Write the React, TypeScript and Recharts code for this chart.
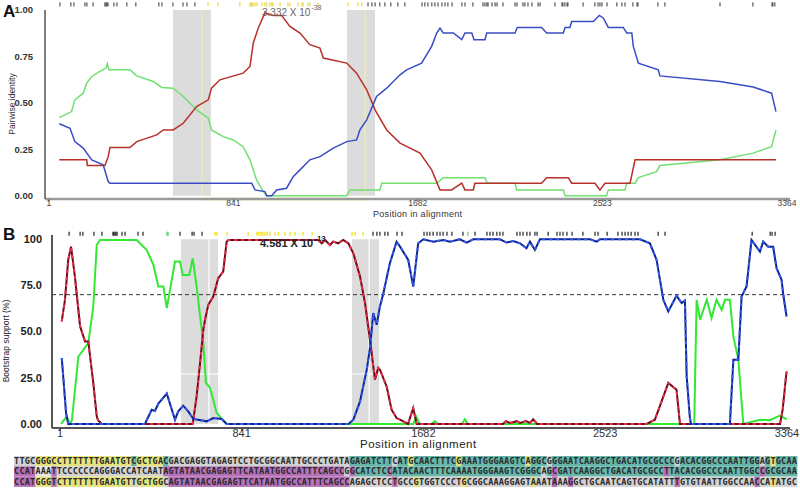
import { LineChart, Line, XAxis, YAxis, ReferenceArea, ReferenceLine } from 'recharts'

const positionTicks = [1, 841, 1682, 2523, 3364]
const identityTicks = [0, 0.25, 0.5, 0.75, 1]
const bootstrapTicks = [0, 25, 50, 75, 100]

// Panel A - pairwise identity, [position, identity]
const identityGreen = [
  [48, 0.42], [104, 0.453], [119, 0.516], [157, 0.552], [173, 0.606], [196, 0.642], [233, 0.669],
  [261, 0.687], [267, 0.71], [274, 0.678], [370, 0.678], [401, 0.645], [476, 0.615], [515, 0.583],
  [567, 0.579], [613, 0.534], [674, 0.462], [727, 0.417], [742, 0.354], [795, 0.318], [841, 0.3],
  [886, 0.264], [917, 0.193], [947, 0.085], [978, 0.022], [993, 0], [1358, 0], [1373, 0.031],
  [1509, 0.031], [1517, 0.067], [1768, 0.067], [1798, 0.097], [1988, 0.097], [1999, 0.067],
  [2125, 0.067], [2133, 0.031], [2345, 0.031], [2353, 0], [2542, 0], [2550, 0.031], [2626, 0.031],
  [2634, 0.067], [2672, 0.067], [2687, 0.097], [2770, 0.129], [2785, 0.162], [3059, 0.193],
  [3210, 0.229], [3294, 0.264], [3314, 0.354],
]
const identityRed = [
  [48, 0.193], [173, 0.193], [176, 0.162], [256, 0.162], [271, 0.21], [279, 0.259], [370, 0.259],
  [401, 0.291], [492, 0.327], [522, 0.354], [567, 0.354], [613, 0.39], [674, 0.48], [727, 0.516],
  [742, 0.579], [780, 0.624], [886, 0.66], [917, 0.696], [932, 0.822], [955, 0.903], [985, 0.984],
  [1023, 0.971], [1061, 0.971], [1099, 0.912], [1145, 0.876], [1190, 0.813], [1236, 0.795],
  [1251, 0.741], [1358, 0.714], [1403, 0.66], [1449, 0.57], [1487, 0.462], [1540, 0.354],
  [1601, 0.283], [1692, 0.229], [1745, 0.139], [1783, 0.031], [1836, 0.031], [1882, 0.067],
  [1897, 0.031], [1935, 0.031], [1942, 0.067], [2246, 0.067], [2269, 0.097], [2368, 0.097],
  [2383, 0.067], [2489, 0.067], [2512, 0.031], [2535, 0.067], [2649, 0.067], [2672, 0.193],
  [3314, 0.193],
]
const identityBlue = [
  [48, 0.387], [97, 0.363], [119, 0.291], [157, 0.256], [196, 0.193], [248, 0.166], [271, 0.076],
  [279, 0.067], [925, 0.067], [940, 0.031], [985, 0.022], [993, 0], [1016, 0], [1039, 0.031],
  [1084, 0.04], [1114, 0.102], [1145, 0.139], [1190, 0.193], [1236, 0.21], [1297, 0.256],
  [1358, 0.291], [1403, 0.3], [1418, 0.354], [1449, 0.408], [1494, 0.534], [1540, 0.579],
  [1601, 0.651], [1631, 0.678], [1699, 0.714], [1745, 0.804], [1768, 0.876], [1783, 0.903],
  [1798, 0.876], [1844, 0.876], [1882, 0.84], [1897, 0.876], [1928, 0.876], [1938, 0.84],
  [1988, 0.84], [1996, 0.876], [2125, 0.876], [2135, 0.906], [2246, 0.906], [2269, 0.876],
  [2345, 0.876], [2353, 0.906], [2375, 0.906], [2383, 0.938], [2482, 0.938], [2509, 0.971],
  [2527, 0.957], [2550, 0.906], [2618, 0.906], [2634, 0.876], [2657, 0.876], [2664, 0.804],
  [2687, 0.714], [2778, 0.678], [2785, 0.645], [3059, 0.615], [3210, 0.585], [3294, 0.552],
  [3314, 0.453],
]

// Panel B - bootstrap support (%), [position, support]
const bootstrapGreen = [
  [6, 0], [32, 4], [47, 0], [56, 2], [86, 36.5], [132, 43.8], [155, 63.6], [171, 96.9], [186, 99.6],
  [356, 99.6], [402, 94.2], [433, 86.1], [456, 74.4], [479, 74.4], [495, 62.7], [533, 87.9],
  [556, 87.9], [569, 80.7], [599, 80.7], [615, 89.7], [633, 74.4], [664, 43.8], [676, 22.2],
  [695, 19.5], [726, 5.9], [756, 2], [772, 0], [1635, 0], [1650, 3.8], [1665, 0], [1720, 0],
  [1735, 1.5], [1750, 0], [1860, 0], [1874, 2.5], [1888, 0], [2935, 0], [2946, 67.2], [2962, 56.4],
  [2993, 67.2], [3015, 57.3], [3038, 67.2], [3062, 61.8], [3077, 67.2], [3100, 67.2], [3116, 47.4],
  [3139, 34.8], [3162, 0], [3239, 2.3], [3285, 2], [3331, 4.5], [3363, 2.5],
]
const bootstrapRed = [
  [9, 55.5], [24, 67.2], [39, 88.8], [52, 96], [70, 79.8], [94, 52.8], [117, 44.6], [132, 44.6],
  [155, 22.2], [171, 4.1], [177, 2], [194, 0], [615, 0], [633, 14.9], [649, 33], [664, 51],
  [672, 56.4], [687, 64.5], [710, 69], [733, 78.9], [756, 82.5], [772, 98.7], [780, 99.6],
  [1196, 99.6], [1212, 97.8], [1227, 99.6], [1250, 96.9], [1265, 98.7], [1288, 97.8], [1311, 99.6],
  [1335, 97.8], [1358, 92.4], [1389, 79.8], [1412, 65.4], [1435, 45.6], [1458, 24], [1473, 30.3],
  [1481, 29.4], [1512, 20.3], [1535, 7.7], [1558, 3.2], [1574, 2.3], [1611, 0], [1635, 8.6],
  [1651, 0], [2050, 0], [2064, 1.5], [2083, 0.5], [2115, 1.5], [2129, 0.5], [2157, 1.5],
  [2175, 0.5], [2190, 2.5], [2208, 0], [2715, 0], [2753, 2.3], [2815, 22.2], [2853, 18.5],
  [2869, 0], [3332, 0], [3344, 7.7], [3362, 28.4],
]
const bootstrapBlue = [
  [9, 35.7], [16, 25.7], [29, 5.9], [39, 0], [394, 0], [425, 7.7], [440, 7], [456, 11], [495, 16.4],
  [533, 2.3], [548, 6.8], [571, 9.9], [594, 6.8], [618, 2.7], [680, 1.4], [710, 3.2], [749, 2.7],
  [772, 0], [1335, 0], [1358, 2.3], [1389, 12.2], [1420, 29.4], [1435, 41], [1450, 60],
  [1466, 53.7], [1481, 63.6], [1497, 70.8], [1527, 87], [1558, 98.7], [1574, 96], [1612, 88.8],
  [1635, 74.4], [1658, 97.8], [1682, 100], [1728, 98.7], [1774, 99.6], [1805, 98.7], [1851, 100],
  [1882, 98.2], [1913, 100], [2036, 100], [2067, 98.2], [2098, 99], [2129, 97.8], [2159, 95.1],
  [2175, 98.7], [2198, 94.2], [2221, 100], [2453, 100], [2484, 98.7], [2499, 100], [2684, 100],
  [2730, 97.8], [2761, 88.8], [2792, 67.2], [2815, 60.9], [2853, 69.4], [2877, 65.4], [2892, 66.8],
  [2900, 25.7], [2915, 3.2], [2920, 0], [3100, 0], [3116, 34.8], [3139, 34.8], [3154, 69],
  [3177, 74.4], [3200, 99.6], [3239, 93.3], [3254, 98.7], [3277, 96], [3300, 96], [3316, 84.3],
  [3339, 78], [3346, 70.8], [3362, 58.2],
]

// informative sites along the top
const sitesABlack = [
  51, 101, 115, 165, 174, 202, 256, 261, 265, 270, 297, 311, 356, 397, 502, 516, 566, 612, 630, 666,
  1455, 1473, 1487, 1509, 1532, 1559, 1591, 1623, 1701, 1714, 1728, 1746, 1760, 1774, 1792, 1806,
  1819, 1838, 1883, 1897, 1933, 1979, 1988, 1997, 2002, 2020, 2034, 2043, 2070, 2125, 2134, 2161,
  2170, 2184, 2202, 2230, 2239, 2307, 2339, 2343, 2352, 2362, 2366, 2435, 2489, 2503, 2512, 2521,
  2544, 2589, 2612, 2626, 2662, 2681, 2685, 2776, 2808, 3059, 3209, 3296, 3300, 3309,
]
const sitesAYellow = [
  726, 771, 871, 917, 922, 926, 931, 940, 949, 972, 985, 994, 1008, 1017, 1022, 1054, 1090, 1099,
  1136, 1154, 1159, 1181, 1190, 1227, 1364, 1409, 1427,
]
const sitesBBlack = [
  43, 94, 107, 158, 195, 246, 250, 255, 260, 265, 288, 302, 362, 385, 556, 612, 621, 658, 1449, 1467,
  1481, 1504, 1518, 1560, 1583, 1685, 1699, 1712, 1727, 1745, 1759, 1773, 1791, 1814, 1865, 1921,
  1976, 1990, 2004, 2022, 2036, 2050, 2115, 2129, 2143, 2161, 2175, 2198, 2208, 2259, 2300, 2314,
  2328, 2346, 2370, 2420, 2476, 2490, 2532, 2582, 2601, 2615, 2629, 2643, 2661, 2675, 2768, 2800,
  3203, 3286, 3295, 3309,
]
const sitesBGreen = [496, 501, 1888]
const sitesBYellow = [
  718, 727, 774, 871, 912, 921, 931, 940, 949, 959, 972, 996, 1010, 1042, 1065, 1088, 1125, 1167,
  1352, 1366, 1403,
]

const identityBreaks = [[566, 739], [1359, 1487]]
const identityBreakLines = [698, 1441]
const bootstrapBreaks = [[561, 732], [1352, 1477]]
const bootstrapBreakLines = [690, 1431]

const seqRows = [
  'TTGCGGGCCTTTTTTTGAATGTCGCTGACGACGAGGTAGAGTCCTGCGGCAATTGCCCTGATAGAGATCTTCATGCAACTTTCGAAATGGGAAGTCAGGCGGGAATCAAGGCTGACATGCGCCCGACACGGCCCAATTGGAGTGCAA',
  'CCATAAATTCCCCCCAGGGACCATCAATAGTATAACGAGAGTTCATAATGGCCATTTCAGCCGGCATCTCCATACAACTTTCAAAATGGGAAGTCGGGCAGCGATCAAGGCTGACATGCGCCTTACACGGCCCAATTGGCCGCGCAA',
  'CCATGGGTCTTTTTTTGAATGTTGCTGGCAGTATAACGAGAGTTCATAATGGCCATTTCAGCCAGAGCTCCTGCCGTGGTCCCTGCGGCAAAGGAGTAAATAAAGGCTGCAATCAGTGCATATTTGTGTAATTGGCCAACCATATGC',
]
// run-length shading class per row
const seqShading: [string, number][][] = [
  [['g', 4], ['y', 18], ['t', 1], ['y', 5], ['t', 1], ['g', 34], ['t', 8], ['g', 1], ['t', 2], ['y', 1],
   ['t', 8], ['y', 1], ['t', 12], ['y', 1], ['t', 3], ['g', 1], ['t', 23], ['g', 1], ['t', 15], ['g', 1],
   ['t', 1], ['y', 1], ['t', 4]],
  [['p', 4], ['w', 3], ['p', 1], ['g', 20], ['p', 34], ['g', 1], ['p', 1], ['t', 6], ['p', 1], ['t', 28],
   ['g', 1], ['t', 1], ['p', 1], ['t', 20], ['p', 1], ['t', 17], ['p', 1], ['t', 6]],
  [['p', 4], ['y', 3], ['p', 1], ['y', 14], ['g', 1], ['y', 5], ['g', 1], ['p', 34], ['g', 8], ['p', 1],
   ['g', 3], ['y', 1], ['g', 8], ['y', 1], ['g', 12], ['y', 1], ['g', 3], ['p', 1], ['g', 2], ['p', 1],
   ['g', 19], ['p', 1], ['g', 14], ['p', 1], ['g', 2], ['y', 1], ['g', 4]],
]
const shadeFill: Record<string, string> = {
  g: '#d2d2d2',
  w: '#e6e6e6',
  y: '#e4e27c',
  t: '#64b6aa',
  p: '#b46fb6',
}

const FONT = '"Liberation Sans", Arial, sans-serif'

const toRows = (pts: number[][]) => pts.map(([pos, v]) => ({ pos, v }))

function SequenceBlock() {
  const rowH = 10.3
  return (
    <svg width={784} height={32} style={{ position: 'absolute', left: 14, top: 456 }}>
      {seqRows.map((row, r) => {
        const classes = seqShading[r].flatMap(([c, n]) => Array(n).fill(c))
        const w = 783 / row.length
        return row.split('').map((ch, i) => (
          <g key={`${r}-${i}`}>
            <rect x={i * w} y={r * rowH} width={w + 0.4} height={rowH} fill={shadeFill[classes[i] || 'g']} />
            <text
              x={i * w + w / 2}
              y={r * rowH + 8}
              textAnchor="middle"
              fontSize={8.6}
              fontWeight="bold"
              fontFamily='"DejaVu Sans Mono", monospace'
              fill="#2a2a2a"
            >
              {ch}
            </text>
          </g>
        ))
      })}
    </svg>
  )
}

export default function App() {
  return (
    <div style={{ position: 'absolute', left: 0, top: 0, width: 800, height: 493, background: '#fff', fontFamily: FONT, overflow: 'hidden' }}>
      {/* Panel A */}
      <div style={{ position: 'absolute', left: 0, top: 0 }}>
        <LineChart width={800} height={220} margin={{ top: 10, right: 10, bottom: 6, left: 5 }}>
          <XAxis
            type="number"
            dataKey="pos"
            domain={[-17, 3378]}
            ticks={positionTicks}
            height={15}
            tickSize={3}
            axisLine={{ stroke: '#9a9a9a', strokeWidth: 2.5 }}
            tickLine={{ stroke: '#777' }}
            tick={{ fill: '#444', fontSize: 8.5, fontFamily: FONT, dy: -2 }}
            tickMargin={0}
          />
          <YAxis
            type="number"
            domain={[-0.018, 1]}
            ticks={identityTicks}
            width={40}
            tickLine={false}
            axisLine={{ stroke: '#555', strokeWidth: 1.5 }}
            tick={{ fill: '#333', fontSize: 9.5, fontWeight: 'bold', fontFamily: FONT }}
            tickFormatter={(v: number) => v.toFixed(2)}
            tickMargin={6}
          />
          {identityBreaks.map(([a, b]) => (
            <ReferenceArea key={a} x1={a} x2={b} y1={0} y2={1} fill="#dcdcdc" fillOpacity={1} stroke="none" />
          ))}
          {identityBreakLines.map((p) => (
            <ReferenceLine key={p} segment={[{ x: p, y: 0 }, { x: p, y: 1 }]} stroke="#f2eca8" strokeWidth={1.2} />
          ))}
          <ReferenceLine
            segment={[{ x: identityBreakLines[0], y: -0.018 }, { x: identityBreakLines[1], y: -0.018 }]}
            stroke="#eeee88"
            strokeWidth={2.5}
            ifOverflow="visible"
          />
          {sitesABlack.map((p, i) => (
            <ReferenceLine key={`ab${i}`} segment={[{ x: p, y: 1.019 }, { x: p, y: 1.041 }]} stroke="#333" strokeWidth={1} ifOverflow="visible" />
          ))}
          {sitesAYellow.map((p, i) => (
            <ReferenceLine key={`ay${i}`} segment={[{ x: p, y: 1.019 }, { x: p, y: 1.041 }]} stroke="#e6d020" strokeWidth={1} ifOverflow="visible" />
          ))}
          <Line data={toRows(identityGreen)} dataKey="v" type="linear" stroke="#70e070" strokeWidth={1.5} dot={false} isAnimationActive={false} />
          <Line data={toRows(identityRed)} dataKey="v" type="linear" stroke="#b8302a" strokeWidth={1.5} dot={false} isAnimationActive={false} />
          <Line data={toRows(identityBlue)} dataKey="v" type="linear" stroke="#3a4cc4" strokeWidth={1.5} dot={false} isAnimationActive={false} />
        </LineChart>
      </div>

      {/* Panel B */}
      <div style={{ position: 'absolute', left: 0, top: 220 }}>
        <LineChart width={800} height={230} margin={{ top: 15, right: 10, bottom: 7, left: 5 }}>
          <XAxis
            type="number"
            dataKey="pos"
            domain={[-36, 3378]}
            ticks={positionTicks}
            height={15}
            tickSize={3}
            axisLine={{ stroke: '#555', strokeWidth: 2 }}
            tickLine={{ stroke: '#555' }}
            tick={{ fill: '#333', fontSize: 11, fontFamily: FONT, dy: -2 }}
            tickMargin={0}
          />
          <YAxis
            type="number"
            domain={[-2.2, 102.3]}
            ticks={bootstrapTicks}
            width={47}
            tickLine={false}
            axisLine={{ stroke: '#555', strokeWidth: 2 }}
            tick={{ fill: '#222', fontSize: 11, fontWeight: 'bold', fontFamily: FONT }}
            tickFormatter={(v: number) => (v === 100 ? '100' : v === 0 ? '0.00' : v.toFixed(1))}
            tickMargin={4}
          />
          {bootstrapBreaks.map(([a, b]) => (
            <ReferenceArea key={a} x1={a} x2={b} y1={0} y2={100} fill="#dcdcdc" fillOpacity={1} stroke="none" />
          ))}
          {bootstrapBreakLines.map((p) => (
            <ReferenceLine key={p} segment={[{ x: p, y: 0 }, { x: p, y: 100 }]} stroke="#ffffff" strokeWidth={1.2} />
          ))}
          {bootstrapBreaks.map(([a, b]) => (
            <ReferenceLine key={`h${a}`} segment={[{ x: a, y: 27 }, { x: b, y: 27 }]} stroke="#ffffff" strokeWidth={1} />
          ))}
          <ReferenceLine y={70} stroke="#333" strokeDasharray="4 3" strokeWidth={1} />
          <ReferenceLine
            segment={[{ x: bootstrapBreakLines[0], y: -2.2 }, { x: bootstrapBreakLines[1], y: -2.2 }]}
            stroke="#eeee66"
            strokeWidth={2}
            ifOverflow="visible"
          />
          {sitesBBlack.map((p, i) => (
            <ReferenceLine key={`bb${i}`} segment={[{ x: p, y: 101.9 }, { x: p, y: 104.1 }]} stroke="#222" strokeWidth={1.2} ifOverflow="visible" />
          ))}
          {sitesBGreen.map((p, i) => (
            <ReferenceLine key={`bg${i}`} segment={[{ x: p, y: 101.9 }, { x: p, y: 104.1 }]} stroke="#55cc55" strokeWidth={1.2} ifOverflow="visible" />
          ))}
          {sitesBYellow.map((p, i) => (
            <ReferenceLine key={`by${i}`} segment={[{ x: p, y: 101.9 }, { x: p, y: 104.1 }]} stroke="#f0e000" strokeWidth={1.2} ifOverflow="visible" />
          ))}
          <Line data={toRows(bootstrapGreen)} dataKey="v" type="linear" stroke="#33e833" strokeWidth={2} dot={false} isAnimationActive={false} />
          <Line data={toRows(bootstrapRed)} dataKey="v" type="linear" stroke="#6e0a1c" strokeWidth={2} dot={false} isAnimationActive={false} />
          <Line data={toRows(bootstrapRed)} dataKey="v" type="linear" stroke="#f0304a" strokeWidth={2} strokeDasharray="3 4" dot={false} isAnimationActive={false} />
          <Line data={toRows(bootstrapBlue)} dataKey="v" type="linear" stroke="#0c2490" strokeWidth={2} dot={false} isAnimationActive={false} />
          <Line data={toRows(bootstrapBlue)} dataKey="v" type="linear" stroke="#3a5cf0" strokeWidth={2} strokeDasharray="3 4" dot={false} isAnimationActive={false} />
        </LineChart>
      </div>

      {/* panel letters, axis titles, annotations */}
      <div style={{ position: 'absolute', left: 3, top: 2, fontSize: 17, fontWeight: 'bold', color: '#111' }}>A</div>
      <div style={{ position: 'absolute', left: 3, top: 225, fontSize: 17, fontWeight: 'bold', color: '#111' }}>B</div>
      <div style={{ position: 'absolute', left: 12, top: 104, transform: 'translate(-50%, -50%) rotate(-90deg)', fontSize: 8.5, color: '#333', whiteSpace: 'nowrap' }}>
        Pairwise identity
      </div>
      <div style={{ position: 'absolute', left: 6, top: 341, transform: 'translate(-50%, -50%) rotate(-90deg)', fontSize: 8.5, color: '#222', whiteSpace: 'nowrap' }}>
        Bootstrap support (%)
      </div>
      <div style={{ position: 'absolute', left: 373, top: 209, fontSize: 9, color: '#333', whiteSpace: 'nowrap', letterSpacing: 0.3 }}>
        Position in alignment
      </div>
      <div style={{ position: 'absolute', left: 360, top: 438, fontSize: 11.5, color: '#222', whiteSpace: 'nowrap', letterSpacing: 0.5 }}>
        Position in alignment
      </div>
      <div style={{ position: 'absolute', left: 262, top: 7, fontSize: 10, color: '#666', whiteSpace: 'nowrap' }}>
        3.332 X 10<span style={{ position: 'relative', top: -6, fontSize: 7, marginLeft: 1 }}>-38</span>
      </div>
      <div style={{ position: 'absolute', left: 260, top: 237, fontSize: 11, fontWeight: 'bold', color: '#222', whiteSpace: 'nowrap' }}>
        4.581 X 10<span style={{ position: 'relative', top: -6, fontSize: 8, marginLeft: 1 }}>-13</span>
      </div>

      <SequenceBlock />
    </div>
  )
}
